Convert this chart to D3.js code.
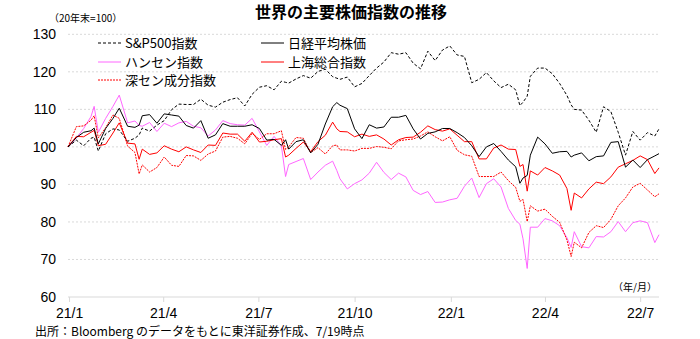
<!DOCTYPE html>
<html><head><meta charset="utf-8">
<script src="https://cdn.jsdelivr.net/npm/d3@7"></script>
<style>
body{margin:0;background:#fff;}
svg{display:block;}
text{font-family:"Liberation Sans","Noto Sans CJK JP",sans-serif;fill:#000;}
.jp{font-family:"Noto Sans CJK JP","Liberation Sans",sans-serif;}
</style></head><body>
<div id="chart"></div>
<script>
const dates = ["2020-12-31","2021-01-08","2021-01-15","2021-01-22","2021-01-25","2021-01-29","2021-02-05","2021-02-12","2021-02-18","2021-02-26","2021-03-05","2021-03-09","2021-03-12","2021-03-19","2021-03-26","2021-04-02","2021-04-09","2021-04-16","2021-04-23","2021-04-30","2021-05-07","2021-05-14","2021-05-21","2021-05-28","2021-06-04","2021-06-11","2021-06-18","2021-06-25","2021-07-02","2021-07-09","2021-07-16","2021-07-23","2021-07-27","2021-07-30","2021-08-06","2021-08-13","2021-08-20","2021-08-27","2021-09-03","2021-09-10","2021-09-14","2021-09-17","2021-09-24","2021-10-01","2021-10-08","2021-10-15","2021-10-22","2021-10-29","2021-11-05","2021-11-12","2021-11-19","2021-11-26","2021-12-03","2021-12-10","2021-12-17","2021-12-24","2021-12-31","2022-01-07","2022-01-14","2022-01-21","2022-01-28","2022-02-04","2022-02-11","2022-02-18","2022-02-25","2022-03-04","2022-03-08","2022-03-11","2022-03-15","2022-03-18","2022-03-25","2022-04-01","2022-04-08","2022-04-15","2022-04-22","2022-04-26","2022-04-29","2022-05-06","2022-05-13","2022-05-20","2022-05-27","2022-06-03","2022-06-10","2022-06-17","2022-06-24","2022-07-01","2022-07-08","2022-07-15","2022-07-19"];

const sp500 = [100,101.8,100.3,102.3,102.6,98.9,103.5,104.8,104.5,101.5,102.3,103.2,105.0,104.2,105.8,107.0,109.9,111.4,111.3,111.3,112.7,111.1,110.6,111.9,112.6,113.1,110.9,114.0,115.9,116.3,115.2,117.5,117.2,117.0,118.1,119.0,118.3,120.1,120.7,118.7,118.3,118.0,118.6,116.0,116.9,119.0,121.0,122.6,125.1,124.7,125.1,122.3,120.8,125.5,123.0,125.8,126.9,124.5,124.1,117.1,118.0,119.8,117.6,115.8,116.7,115.2,111.0,111.9,113.5,118.8,121.0,121.0,119.5,116.9,113.7,111.2,110.0,109.8,107.1,103.9,110.7,109.4,103.9,97.8,104.1,101.8,103.8,102.9,104.8];

const nikkei = [100,102.5,103.9,104.3,105.0,100.8,104.9,107.6,110.3,105.5,105.2,105.8,108.3,108.6,106.3,108.8,108.5,108.2,105.7,105.0,107.0,102.3,103.2,106.2,105.5,105.5,105.5,105.9,104.9,101.8,102.0,100.4,101.9,99.4,101.4,101.9,98.4,100.7,106.1,110.7,111.8,111.1,110.2,104.8,102.2,105.9,105.0,105.3,107.9,107.9,108.4,104.8,102.1,103.6,104.0,104.9,104.9,103.8,102.5,100.3,97.4,100.0,100.9,98.8,96.5,94.7,90.3,91.7,92.4,97.8,102.6,100.8,98.3,98.7,98.8,97.3,97.8,98.4,96.3,97.4,97.6,101.2,101.4,94.6,96.5,94.5,96.6,97.6,98.2];

const hangseng = [100,102.4,104.9,108.1,110.8,103.9,107.6,110.8,113.8,106.4,106.9,105.7,105.5,106.5,104.1,106.3,105.4,106.4,106.8,105.5,105.1,102.9,104.5,107.0,106.2,105.9,105.8,107.6,104.0,100.4,102.8,100.3,92.1,95.3,96.1,96.9,91.3,93.3,95.1,96.2,93.7,91.5,88.8,90.2,91.2,93.0,95.9,93.2,91.3,93.0,92.0,88.4,87.3,88.1,85.2,85.3,85.9,86.3,89.5,91.7,86.5,90.2,91.5,89.3,83.6,80.4,79.4,75.5,67.6,78.6,78.6,80.9,80.3,79.0,75.8,73.2,77.4,73.4,73.1,76.1,76.0,77.4,80.1,77.4,79.8,80.3,79.8,74.5,76.6];

const shanghai = [100,102.8,102.7,103.9,104.4,100.3,100.7,103.7,106.4,101.0,100.8,96.7,99.4,98.0,98.4,100.3,99.4,98.7,100.0,99.2,98.5,100.5,100.4,103.7,103.4,103.4,101.5,103.9,101.3,101.5,101.9,102.2,97.3,97.8,99.6,101.3,98.7,101.4,103.1,106.6,104.8,104.1,104.0,102.7,103.4,102.8,103.2,102.1,100.5,101.9,102.5,102.6,103.9,105.6,104.6,104.2,104.8,103.1,101.4,101.4,96.8,96.8,99.7,100.5,99.4,99.3,94.8,95.3,88.2,93.6,92.5,94.5,93.6,92.5,88.9,83.1,87.7,86.4,88.8,90.6,90.2,92.0,94.6,95.5,96.4,97.6,96.6,92.9,94.4];

const shenzhen = [100,105.4,105.6,107.1,108.3,102.4,105.1,108.5,107.6,100.2,98.5,92.8,95.2,93.3,94.5,97.3,95.1,94.8,97.7,97.6,96.4,98.1,98.9,102.6,102.8,102.3,100.8,103.6,102.0,103.5,103.5,104.3,99.3,100.0,102.5,102.3,98.5,99.8,98.1,100.3,100.5,99.2,99.2,98.9,99.6,99.6,100.1,99.9,99.5,101.6,101.9,102.1,102.9,104.0,102.7,101.6,102.7,99.1,97.9,97.5,92.1,92.1,92.1,93.3,91.0,89.2,85.5,86.0,80.1,84.3,82.9,83.4,81.5,79.9,75.2,70.8,74.6,73.1,77.2,79.0,78.5,80.7,84.3,86.4,89.3,90.3,88.5,86.7,87.5];

const seriesNames = ["S&P500指数","日経平均株価","ハンセン指数","上海総合指数","深セン成分指数"];
const seriesColors = ["#000000","#000000","#ff66ff","#ff0000","#ff0000"];
const seriesDash = ["3,2",null,null,null,"2,1"];
const seriesValues = [sp500, nikkei, hangseng, shanghai, shenzhen];

const yTicks = [60,70,80,90,100,110,120,130];
const xTickDates = ["2021-01-01","2021-04-01","2021-07-01","2021-10-01","2022-01-01","2022-04-01","2022-07-01"];
const xTickLabels = ["21/1","21/4","21/7","21/10","22/1","22/4","22/7"];

const W = 700, H = 339;
const svg = d3.select("#chart").append("svg").attr("width", W).attr("height", H);
const parse = d3.timeParse("%Y-%m-%d");
const x = d3.scaleTime().domain([parse("2020-12-31"), parse("2022-07-19")]).range([68, 659]);
const y = d3.scaleLinear().domain([60,130]).range([297, 34.3]);

// gridlines
svg.append("g").selectAll("line").data(yTicks.filter(d => d > 60)).join("line")
  .attr("x1", 68).attr("x2", 659).attr("y1", d => y(d)).attr("y2", d => y(d))
  .attr("stroke", "#d9d9d9").attr("stroke-dasharray", "2,2").attr("stroke-width", 1);

// x axis
const xAxis = d3.axisBottom(x)
  .tickValues(xTickDates.map(parse))
  .tickFormat((d, i) => xTickLabels[i])
  .tickSize(5).tickPadding(6);
const gx = svg.append("g").attr("transform", `translate(0,${y(60)})`).call(xAxis);
gx.select(".domain").attr("stroke", "#d9d9d9").attr("d", `M68,0H659`);
gx.selectAll(".tick line").attr("stroke", "#d9d9d9");
gx.selectAll(".tick text").attr("font-size", 14).attr("fill", "#000")
  .attr("font-family", "Liberation Sans, sans-serif");

// y axis
const yAxis = d3.axisLeft(y).tickValues(yTicks).tickSize(0).tickPadding(0);
const gy = svg.append("g").attr("transform", `translate(56,0)`).call(yAxis);
gy.select(".domain").remove();
gy.selectAll(".tick text").attr("font-size", 14).attr("fill", "#000")
  .attr("font-family", "Liberation Sans, sans-serif");

// lines
const pd = dates.map(parse);
const line = d3.line().x((d, i) => x(pd[i])).y(d => y(d));
const order = [2, 4, 3, 1, 0];
order.forEach(k => {
  svg.append("path").datum(seriesValues[k])
    .attr("d", line).attr("fill", "none")
    .attr("stroke", seriesColors[k]).attr("stroke-width", 1)
    .attr("stroke-dasharray", seriesDash[k]);
});

// legend
const legendPos = [[98,43],[261,43],[98,62],[261,62],[98,80]];
seriesNames.forEach((n, k) => {
  const [lx, ly] = legendPos[k];
  svg.append("line").attr("x1", lx).attr("x2", lx + 23).attr("y1", ly).attr("y2", ly)
    .attr("stroke", seriesColors[k]).attr("stroke-width", 1).attr("stroke-dasharray", seriesDash[k]);
  svg.append("text").attr("class", "jp").attr("x", lx + 27).attr("y", ly + 5)
    .attr("font-size", 13).text(n);
});

// titles and notes
svg.append("text").attr("class", "jp").attr("x", 351).attr("y", 18).attr("text-anchor", "middle")
  .attr("font-size", 16).attr("font-weight", "bold").attr("fill", "#333").text("世界の主要株価指数の推移");
svg.append("text").attr("class", "jp").attr("x", 49).attr("y", 22).attr("font-size", 10).text("（20年末=100）");
svg.append("text").attr("class", "jp").attr("x", 613).attr("y", 291).attr("font-size", 10).text("（年/月）");
svg.append("text").attr("class", "jp").attr("x", 35).attr("y", 336).attr("font-size", 12)
  .text("出所：Bloomberg のデータをもとに東洋証券作成、7/19時点");
</script>
</body></html>
